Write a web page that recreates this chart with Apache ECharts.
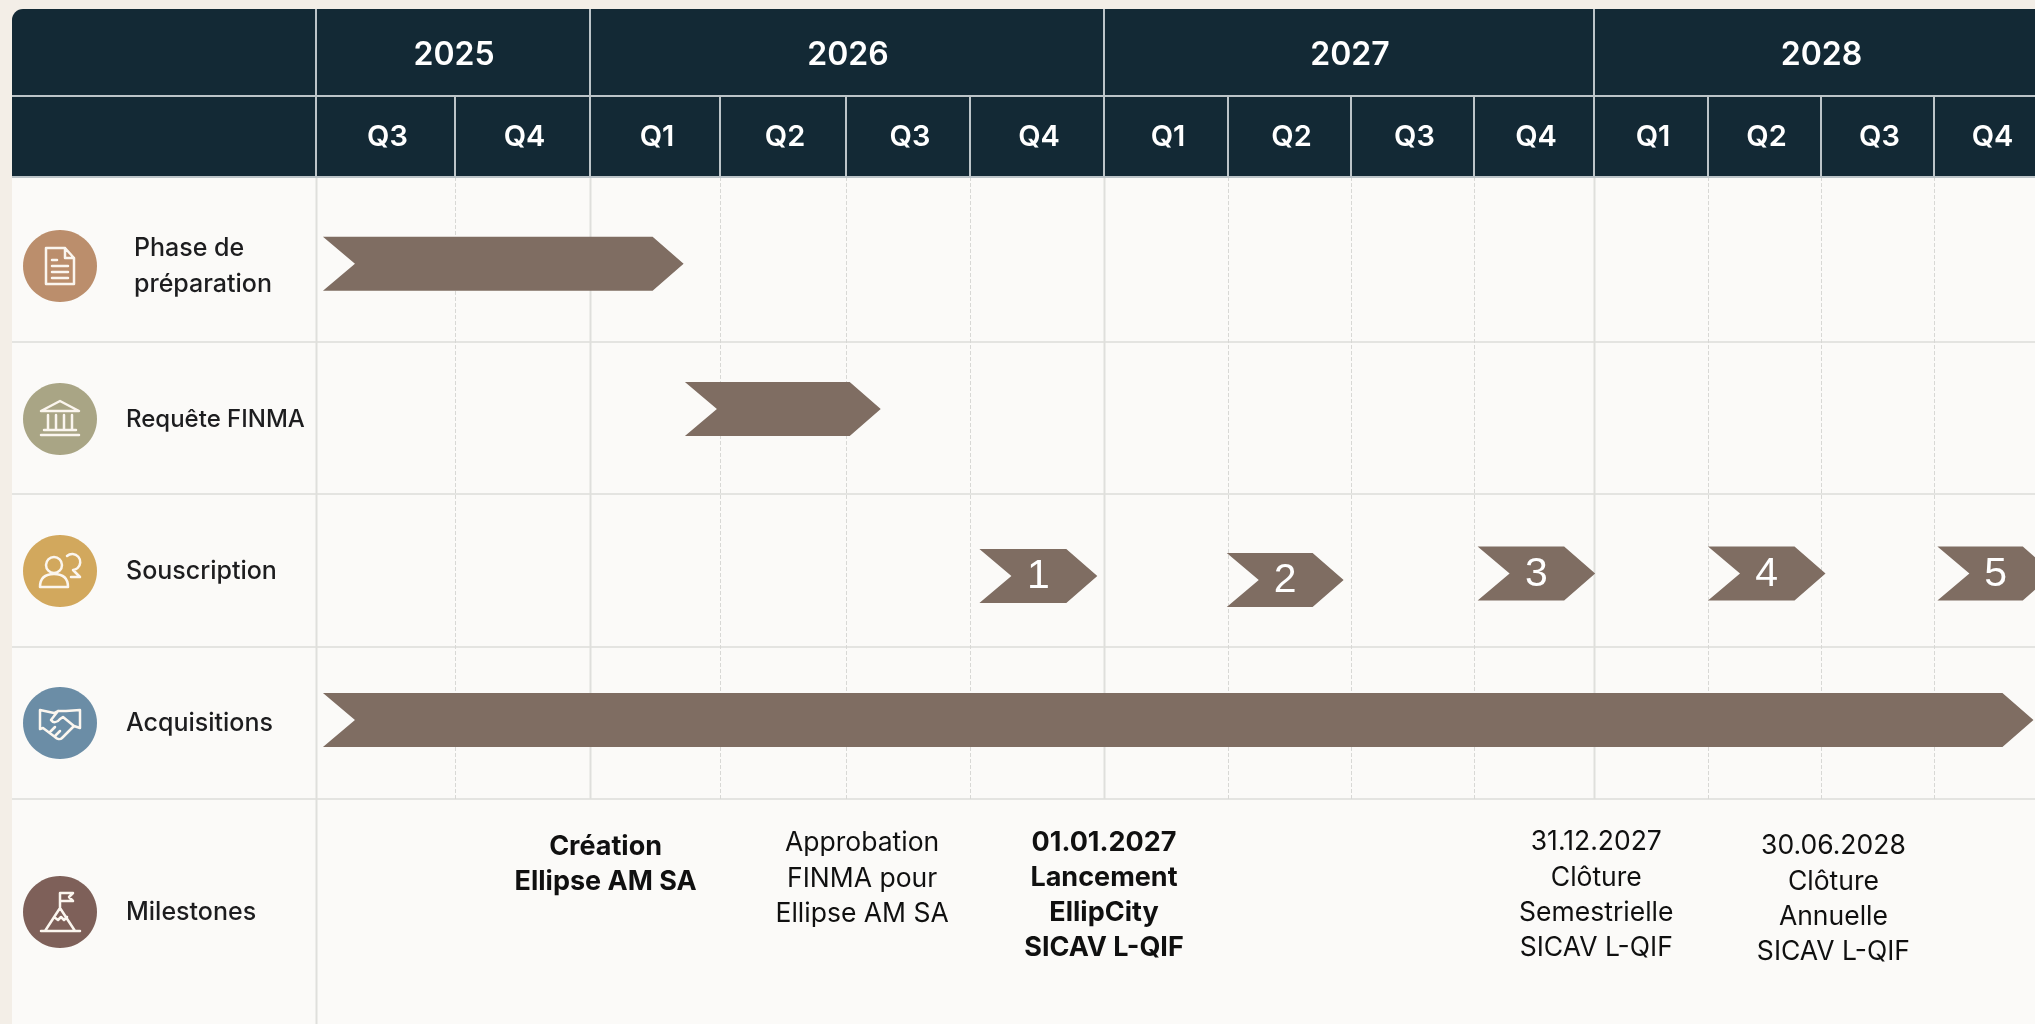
<!DOCTYPE html>
<html lang="fr">
<head>
<meta charset="utf-8">
<title>Calendrier Ellipse AM</title>
<style>html,body{margin:0;padding:0;background:#f3eee7}#chart{width:2035px;height:1024px}</style>
<script src="https://cdn.jsdelivr.net/npm/echarts@6/dist/echarts.min.js"></script>
</head>
<body>
<div id="chart"></div>
<script>
// Timeline content
const years = ['2025', '2026', '2027', '2028'];
const quartersPerYear = [2, 4, 4, 4];
const quarters = ['Q3', 'Q4', 'Q1', 'Q2', 'Q3', 'Q4', 'Q1', 'Q2', 'Q3', 'Q4', 'Q1', 'Q2', 'Q3', 'Q4'];
const rowLabels = [['Phase de', 'préparation'], ['Requête FINMA'], ['Souscription'], ['Acquisitions'], ['Milestones']];
const rowColors = ['#bb8e6c', '#a9a585', '#d2a85d', '#6b8da6', '#7e6059'];

// Task spans, in quarters counted from the start of Q3 2025
const preparationSpan = [0.05, 2.72];
const finmaSpan = [2.73, 4.28];
const subscriptionStarts = [5.07, 6.99, 9.03, 11.0, 13.03];
const subscriptionEnds = [5.95, 7.94, 10.01, 12.04, 14.06];
const subscriptionNumbers = ['1', '2', '3', '4', '5'];
const acquisitionSpan = [0.05, 13.88];

// Milestones: position in quarters, emphasis, text lines
const milestoneAt = [2.12, 4.13, 6.0, 10.02, 12.11];
const milestoneBold = [true, false, true, false, false];
const milestoneText = [
  ['Création', 'Ellipse AM SA'],
  ['Approbation', 'FINMA pour', 'Ellipse AM SA'],
  ['01.01.2027', 'Lancement', 'EllipCity', 'SICAV L-QIF'],
  ['31.12.2027', 'Clôture', 'Semestrielle', 'SICAV L-QIF'],
  ['30.06.2028', 'Clôture', 'Annuelle', 'SICAV L-QIF']
];

// Table layout, in axis units (one unit is one pixel at this chart size)
const labelColumn = 304;
const quarterSpans = [139, 135, 130, 126, 124, 134, 124, 123, 123, 120, 114, 113, 113, 113];
const bandSpans = [87, 81, 165, 152, 153, 152, 225];
const laneCentres = [254.7, 400, 0, 711];
const subscriptionLanes = [567, 571, 564.5, 564.5, 564.5];
const milestoneFirstLine = [837.5, 834.5, 833.5, 833.5, 837.5];
const milestoneLeading = 35.2;
const barHeight = 54, notchDepth = 32, headDepth = 31;
const iconX = -256, labelX = -190, twoLineLabelX = -182;
const rowIconY = [257, 410, 562, 714, 903];
const rowLabelY = [[239, 275], [411], [562], [714.5], [903]];
const rowLabelSize = [25, 24, 25, 25, 25];

const ink = '#132935', bar = '#7f6d62', panel = '#fbfaf8';
const headRule = '#bcc4c8', yearRule = '#dfdfdc', quarterRule = '#d8d8d5', rowRule = '#e4e4e1';

const icons = [
  'M-14,-18 H5 L14,-8 V18 H-14 Z M5,-18 V-8 H14 M-8,-6 H-3 M-8,0 H8 M-8,6 H8 M-8,12 H8',
  'M-19,-8 L0,-18 L19,-8 Z M-12,-4 V10 M-4,-4 V10 M4,-4 V10 M12,-4 V10 M-16,11 H16 M-19,16 H19',
  'M-14,-6 A8,8 0 1 0 2,-6 A8,8 0 1 0 -14,-6 Z M-20,16 C-20,6 -14,3 -6,3 C2,3 8,6 8,16 Z M7,-15 A8,8 0 1 1 13,-1 L20,6 L11,6',
  'M-20,-13 L-6,-10 L-2,-12 L6,-12 L20,-13 V5 L14,3 L2,15 C0,17 -3,16 -5,14 L-17,5 L-20,6 Z M-2,-12 L-9,-3 C-7,0 -3,0 0,-4 L3,-6 L14,3 M-10,9 L-5,4 M-5,13 L0,8',
  'M-19,19 H20 M-15,19 L0,-4 L15,19 M0,-4 V-19 M0,-19 H13 L9,-15 L13,-11 H0 M-6,5 L-2,8 L1,5 L4,8 L7,5'
];

// Converts a position in quarters to x axis units
function quarterToAxis(q) {
  const whole = Math.min(Math.floor(q), quarterSpans.length - 1);
  let total = 0;
  for (let i = 0; i < whole; i++) total += quarterSpans[i];
  return total + (q - whole) * quarterSpans[whole];
}
function bandEdge(n) {
  return bandSpans.slice(0, n).reduce((a, b) => a + b, 0);
}
const xOf = (api, q) => api.coord([quarterToAxis(q), 0])[0];
const xRaw = (api, v) => api.coord([v, 0])[0];
const yOf = (api, v) => api.coord([0, v])[1];

// One custom series; draw(i, api) returns the graphic element for item i
function layer(name, count, draw) {
  const data = [];
  for (let i = 0; i < count; i++) data.push([i, 0]);
  return {
    name, type: 'custom', coordinateSystem: 'cartesian2d', silent: true, animation: false, clip: false,
    data, renderItem: (params, api) => draw(params.dataIndex, api)
  };
}
const rectEl = (x, y, width, height, fill, r) => ({
  type: 'rect', shape: { x, y, width, height, r: r || 0 }, style: { fill }
});
const lineEl = (x1, y1, x2, y2, stroke, lineWidth, dash) => ({
  type: 'line', shape: { x1, y1, x2, y2 }, style: { stroke, lineWidth, lineDash: dash || null }
});
const textEl = (text, x, y, fill, font, align) => ({
  type: 'text', style: { text, x, y, fill, font, align: align || 'center', verticalAlign: 'middle' }
});
function arrowEl(api, from, to, lane) {
  const x0 = xOf(api, from), x1 = xOf(api, to);
  const top = yOf(api, lane - barHeight / 2), bottom = yOf(api, lane + barHeight / 2), mid = yOf(api, lane);
  return {
    type: 'polygon',
    shape: { points: [[x0, top], [x1 - headDepth, top], [x1, mid], [x1 - headDepth, bottom], [x0, bottom], [x0 + notchDepth, mid]] },
    style: { fill: bar }
  };
}

// Year blocks as [first quarter, last quarter + 1]
const yearBlocks = [];
quartersPerYear.reduce((start, n) => { yearBlocks.push([start, start + n]); return start + n; }, 0);
const yearEdges = yearBlocks.map(b => b[0]);
const quarterEdges = quarters.map((_, i) => i).filter(i => !yearEdges.includes(i));

const series = [
  layer('panel', 1, (i, api) => rectEl(xRaw(api, -labelColumn), yOf(api, bandEdge(2)), 2100, 900, panel)),
  layer('header', 1, (i, api) => rectEl(xRaw(api, -labelColumn), yOf(api, 0), 2100, bandSpans[0] + bandSpans[1], ink, [11, 0, 0, 0])),

  // Row separators and column rules
  layer('row rules', 4, (i, api) => lineEl(xRaw(api, -labelColumn), yOf(api, bandEdge(3 + i)), xRaw(api, 1800), yOf(api, bandEdge(3 + i)), rowRule, 2)),
  layer('quarter rules', quarterEdges.length, (i, api) => {
    const x = Math.round(xOf(api, quarterEdges[i])) + 0.5;
    return lineEl(x, yOf(api, bandEdge(2)), x, yOf(api, bandEdge(6)), quarterRule, 1, [4, 2]);
  }),
  layer('year rules', yearEdges.length, (i, api) => {
    const x = Math.round(xOf(api, yearEdges[i])) + 0.5;
    return lineEl(x, yOf(api, bandEdge(2)), x, yOf(api, bandEdge(i === 0 ? 7 : 6)), yearRule, 2);
  }),

  // Header rules
  layer('header rule years', yearEdges.length, (i, api) => {
    const x = xOf(api, yearEdges[i]);
    return lineEl(x, yOf(api, 0), x, yOf(api, bandEdge(2)), headRule, 2);
  }),
  layer('header rule quarters', quarterEdges.length, (i, api) => {
    const x = xOf(api, quarterEdges[i]);
    return lineEl(x, yOf(api, bandEdge(1)), x, yOf(api, bandEdge(2)), headRule, 2);
  }),
  layer('header rule rows', 2, (i, api) => lineEl(xRaw(api, -labelColumn), yOf(api, bandEdge(1 + i)), xRaw(api, 1800), yOf(api, bandEdge(1 + i)), headRule, 2)),

  // Header labels
  layer('years', years.length, (i, api) => textEl(years[i],
    (xOf(api, yearBlocks[i][0]) + xOf(api, yearBlocks[i][1])) / 2 + 1, yOf(api, bandEdge(1) / 2) + 3,
    '#ffffff', '600 32px Inter')),
  layer('quarters', quarters.length, (i, api) => textEl(quarters[i],
    xOf(api, i + 0.5) + 2, yOf(api, (bandEdge(1) + bandEdge(2)) / 2) + 1, '#ffffff', '600 29px Inter')),

  // Row icons and labels
  layer('row badges', rowColors.length, (i, api) => ({
    type: 'group', children: [
      { type: 'ellipse', shape: { cx: xRaw(api, iconX), cy: yOf(api, rowIconY[i]), rx: 37, ry: 36 }, style: { fill: rowColors[i] } },
      { type: 'path', x: xRaw(api, iconX), y: yOf(api, rowIconY[i]), shape: { pathData: icons[i] },
        style: { fill: 'none', stroke: '#fbf6ef', lineWidth: 2.5, lineJoin: 'round', lineCap: 'round' } }
    ]
  })),
  layer('row labels', rowLabels.length, (i, api) => ({
    type: 'group',
    children: rowLabels[i].map((t, k) => textEl(t,
      xRaw(api, rowLabels[i].length > 1 ? twoLineLabelX : labelX), yOf(api, rowLabelY[i][k]),
      '#1d1d1f', '500 ' + rowLabelSize[i] + 'px Inter', 'left'))
  })),

  // Task arrows
  layer('préparation', 1, (i, api) => arrowEl(api, preparationSpan[0], preparationSpan[1], laneCentres[0])),
  layer('requête', 1, (i, api) => arrowEl(api, finmaSpan[0], finmaSpan[1], laneCentres[1])),
  layer('souscription', subscriptionStarts.length, (i, api) => ({
    type: 'group', children: [
      arrowEl(api, subscriptionStarts[i], subscriptionEnds[i], subscriptionLanes[i]),
      textEl(subscriptionNumbers[i],
        (xOf(api, subscriptionStarts[i]) + xOf(api, subscriptionEnds[i])) / 2,
        yOf(api, subscriptionLanes[i]) + 1, '#ffffff', '400 41px "Liberation Sans"')
    ]
  })),
  layer('acquisitions', 1, (i, api) => arrowEl(api, acquisitionSpan[0], acquisitionSpan[1], laneCentres[3])),

  // Milestone notes
  layer('milestones', milestoneText.length, (i, api) => ({
    type: 'group',
    children: milestoneText[i].map((t, k) => textEl(t,
      xOf(api, milestoneAt[i]), yOf(api, milestoneFirstLine[i] + k * milestoneLeading),
      '#101010', milestoneBold[i] ? '700 27px Inter' : '400 26.5px Inter'))
  }))
];

const chart = echarts.init(document.getElementById('chart'), null, { renderer: 'canvas' });
chart.setOption({
  animation: false,
  backgroundColor: '#f3eee7',
  grid: { left: 12, top: 9, right: 0, bottom: 0 },
  xAxis: { type: 'value', min: -labelColumn, max: quarterSpans.reduce((a, b) => a + b, 0) - 12, show: false },
  yAxis: { type: 'value', inverse: true, min: 0, max: bandEdge(7), show: false },
  series
});
</script>
</body>
</html>
